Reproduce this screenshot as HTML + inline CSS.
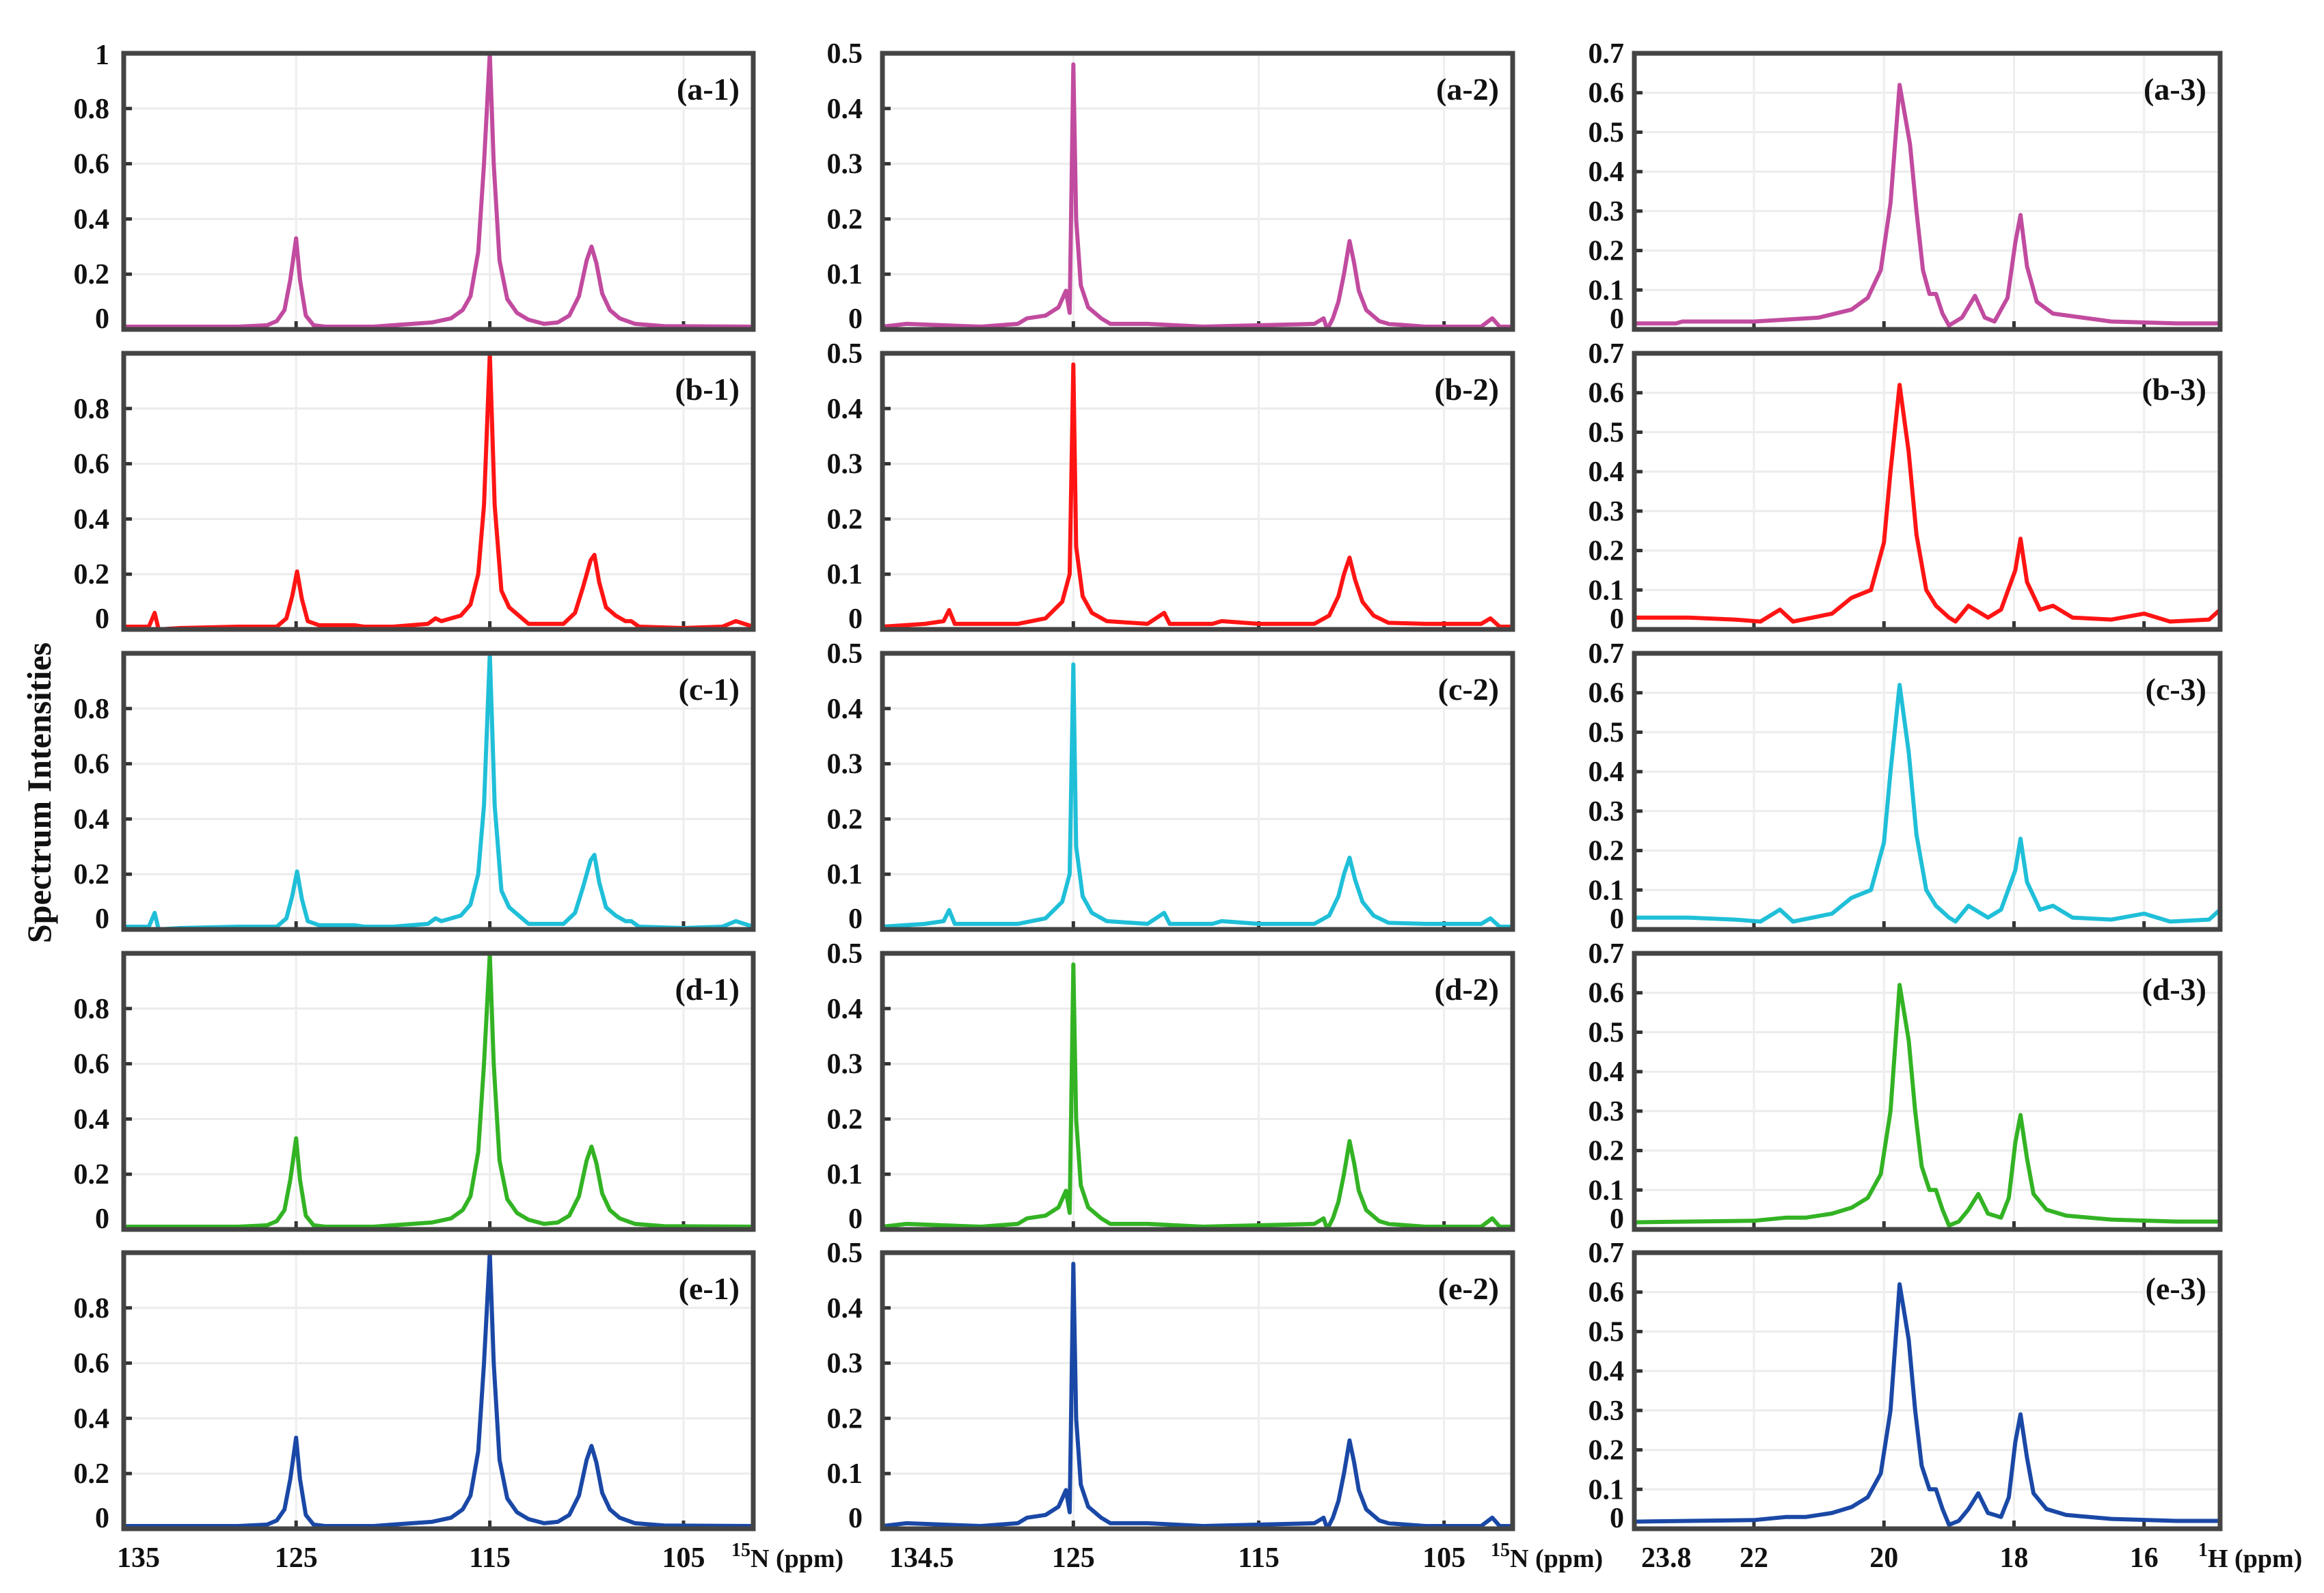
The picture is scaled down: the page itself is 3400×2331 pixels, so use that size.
<!DOCTYPE html>
<html><head><meta charset="utf-8"><style>
html,body{margin:0;padding:0;background:#fff;}
svg{display:block;}
text{font-family:"Liberation Serif",serif;font-weight:bold;fill:#111;}
</style></head>
<body>
<svg id="fig" width="3400" height="2331" viewBox="0 0 3400 2331" xmlns="http://www.w3.org/2000/svg">
<rect x="0" y="0" width="3400" height="2331" fill="#fff"/>
<text x="0" y="0" font-size="50" text-anchor="middle" transform="translate(74,1160) rotate(-90)">Spectrum Intensities</text>
</svg>
<script>
// ---- data (ppm, intensity) ----
const col1ShapeA = [[134,0.01],[128,0.01],[126.5,0.015],[126,0.03],[125.6,0.07],[125.3,0.18],[125.0,0.33],[124.8,0.18],[124.5,0.05],[124.1,0.015],[123.5,0.01],[121,0.01],[120,0.015],[118,0.025],[117,0.04],[116.4,0.07],[116,0.12],[115.6,0.28],[115.3,0.6],[115.0,1.0],[114.8,0.6],[114.5,0.25],[114.1,0.11],[113.6,0.06],[113,0.035],[112.2,0.02],[111.5,0.025],[110.9,0.05],[110.4,0.12],[110,0.25],[109.75,0.3],[109.5,0.24],[109.2,0.13],[108.8,0.07],[108.3,0.04],[107.5,0.02],[106,0.012],[101.4,0.01]];
const col1ShapeB = [[134,0.01],[132.6,0.01],[132.3,0.06],[132.1,0.0],[131,0.005],[128,0.01],[126,0.01],[125.5,0.04],[125.2,0.12],[124.95,0.21],[124.7,0.11],[124.4,0.03],[123.8,0.015],[122,0.015],[121.5,0.01],[120,0.01],[118.2,0.02],[117.8,0.04],[117.5,0.03],[116.5,0.05],[116,0.09],[115.6,0.2],[115.3,0.45],[115.0,1.0],[114.75,0.45],[114.4,0.14],[114,0.08],[113.5,0.05],[113,0.02],[111.2,0.02],[110.6,0.06],[110.2,0.15],[109.8,0.25],[109.6,0.27],[109.35,0.17],[109,0.08],[108.5,0.05],[108,0.03],[107.7,0.03],[107.3,0.01],[105,0.005],[103,0.01],[102.3,0.03],[101.4,0.01]];
const col2ShapeA = [[135.3,0.005],[134,0.01],[130,0.005],[128,0.01],[127.5,0.02],[126.5,0.025],[125.8,0.04],[125.4,0.07],[125.2,0.03],[125.0,0.48],[124.85,0.2],[124.6,0.08],[124.2,0.04],[123.5,0.02],[123,0.01],[121,0.01],[118,0.005],[112,0.01],[111.5,0.02],[111.3,0.0],[111,0.02],[110.7,0.05],[110.4,0.1],[110.1,0.16],[109.85,0.12],[109.6,0.07],[109.2,0.035],[108.5,0.015],[108,0.01],[106,0.005],[103,0.005],[102.4,0.02],[102,0.005],[101.3,0.005]];
const col2ShapeB = [[135.3,0.005],[133,0.01],[132,0.015],[131.7,0.035],[131.4,0.01],[128,0.01],[126.5,0.02],[125.6,0.05],[125.2,0.1],[125.0,0.48],[124.85,0.15],[124.5,0.06],[124,0.03],[123.2,0.015],[121,0.01],[120.1,0.03],[119.8,0.01],[117.5,0.01],[117,0.015],[115,0.01],[112,0.01],[111.2,0.025],[110.7,0.06],[110.4,0.1],[110.1,0.13],[109.8,0.09],[109.4,0.05],[108.8,0.025],[108,0.012],[106,0.01],[103,0.01],[102.5,0.02],[102,0.005],[101.3,0.005]];
const col3ShapeA = [[23.84,0.018],[23.0,0.02],[22,0.022],[21.5,0.03],[21.2,0.03],[20.8,0.04],[20.5,0.055],[20.25,0.08],[20.05,0.14],[19.9,0.3],[19.76,0.62],[19.62,0.48],[19.52,0.3],[19.42,0.16],[19.3,0.1],[19.2,0.1],[19.1,0.05],[19.0,0.01],[18.85,0.02],[18.7,0.05],[18.55,0.09],[18.4,0.04],[18.2,0.03],[18.08,0.08],[17.98,0.22],[17.9,0.29],[17.8,0.18],[17.7,0.09],[17.5,0.05],[17.2,0.035],[16.5,0.025],[15.5,0.02],[14.83,0.02]];
const col3ShapeB = [[23.84,0.03],[23.0,0.03],[22.3,0.025],[21.9,0.02],[21.6,0.05],[21.4,0.02],[20.8,0.04],[20.5,0.08],[20.2,0.1],[20.0,0.22],[19.9,0.4],[19.76,0.62],[19.62,0.45],[19.5,0.24],[19.35,0.1],[19.2,0.06],[19.0,0.03],[18.9,0.02],[18.7,0.06],[18.4,0.03],[18.2,0.05],[17.98,0.15],[17.9,0.23],[17.8,0.12],[17.6,0.05],[17.4,0.06],[17.1,0.03],[16.5,0.025],[16.0,0.04],[15.6,0.02],[15.0,0.025],[14.83,0.05]];
const col3ShapeC = [[23.84,0.015],[23.2,0.015],[23.1,0.02],[22,0.02],[21.0,0.03],[20.5,0.05],[20.25,0.08],[20.05,0.15],[19.9,0.32],[19.76,0.62],[19.6,0.47],[19.5,0.3],[19.4,0.15],[19.3,0.09],[19.2,0.09],[19.1,0.04],[19.0,0.01],[18.8,0.03],[18.6,0.085],[18.45,0.03],[18.3,0.02],[18.1,0.08],[17.98,0.22],[17.9,0.29],[17.8,0.16],[17.65,0.07],[17.4,0.04],[16.5,0.02],[15.5,0.015],[14.83,0.015]];

const rowLetters = ["a","b","c","d","e"];
const rowColors = ["#c14b9f","#ff1414","#20bfd8","#33b324","#1a48a6"];
const col1Shapes = [col1ShapeA,col1ShapeB,col1ShapeB,col1ShapeA,col1ShapeA];
const col2Shapes = [col2ShapeA,col2ShapeB,col2ShapeB,col2ShapeA,col2ShapeA];
const col3Shapes = [col3ShapeC,col3ShapeB,col3ShapeB,col3ShapeA,col3ShapeA];
const col1YTicks = [0,0.2,0.4,0.6,0.8];
const col2YTicks = [0,0.1,0.2,0.3,0.4,0.5];
const col3YTicks = [0,0.1,0.2,0.3,0.4,0.5,0.6,0.7];
const col1XTicks = [125,115,105];
const col2XTicks = [125,115,105];
const col3XTicks = [22,20,18,16];

const NS="http://www.w3.org/2000/svg";
const svg=document.getElementById("fig");
function mk(tag,attrs,parent){const e=document.createElementNS(NS,tag);for(const k in attrs)e.setAttribute(k,attrs[k]);(parent||svg).appendChild(e);return e;}

const cols=[
 {x0:181,x1:1102,d0:133.9,d1:101.4,ymax:1.0,yt:col1YTicks,xt:col1XTicks,shapes:col1Shapes,lab:"1",labX:160},
 {x0:1291,x1:2213,d0:135.3,d1:101.3,ymax:0.5,yt:col2YTicks,xt:col2XTicks,shapes:col2Shapes,lab:"2",labX:1262},
 {x0:2391,x1:3248,d0:23.84,d1:14.83,ymax:0.7,yt:col3YTicks,xt:col3XTicks,shapes:col3Shapes,lab:"3",labX:2376}
];
const rowTops=[78,517,956,1395,1833];
const H=404;
const FS=42;

cols.forEach((c,ci)=>{
 const sx=v=>c.x0+(c.d0-v)/(c.d0-c.d1)*(c.x1-c.x0);
 rowTops.forEach((top,ri)=>{
  const bot=top+H;
  const sy=v=>bot-v/c.ymax*H;
  const g=mk("g",{});
  
  
  c.yt.forEach(t=>{ if(t>0&&t<c.ymax){const l=mk("line",{x1:c.x0,x2:c.x1,y1:sy(t),y2:sy(t),stroke:"#ebebeb","stroke-width":3},g);
    
    }});
  c.xt.forEach(t=>{const l=mk("line",{x1:sx(t),x2:sx(t),y1:top,y2:bot,stroke:"#eeeeee","stroke-width":3},g);
    
    });
  c.yt.forEach(t=>{
   const tx=mk("text",{x:c.labX,y:sy(t)+(t===0?-2:14),"font-size":FS,"text-anchor":"end"},g);
   tx.textContent=String(t);
   
   
   const tk=mk("line",{x1:c.x0,x2:c.x0+12,y1:sy(t),y2:sy(t),stroke:"#333","stroke-width":5},g);
   
   
  });
  if(ci===0 && ri===0){const tx=mk("text",{x:c.labX,y:top+16,"font-size":FS,"text-anchor":"end"},g);tx.textContent="1";
   
   }
  c.xt.forEach(t=>{const tk=mk("line",{x1:sx(t),x2:sx(t),y1:bot-12,y2:bot,stroke:"#333","stroke-width":5},g);
   
   });
  const pts=c.shapes[ri].map(p=>sx(p[0]).toFixed(1)+","+sy(p[1]).toFixed(1)).join(" ");
  const pl=mk("polyline",{points:pts,fill:"none",stroke:rowColors[ri],"stroke-width":6,"stroke-linejoin":"round"},g);
  
  
  const fr=mk("rect",{x:c.x0,y:top,width:c.x1-c.x0,height:H,fill:"none",stroke:"#444","stroke-width":7},g);
  
  
  const lb=mk("text",{x:c.x1-20,y:top+68,"font-size":46,"text-anchor":"end"},g);
  lb.textContent="("+rowLetters[ri]+"-"+c.lab+")";
  
  
 });
 const bot=rowTops[4]+H;
 const first=mk("text",{x:c.x0+(ci===0?-10:10),y:bot+56,"font-size":FS,"text-anchor":"start"});
 first.textContent=ci===0?"135":(ci===1?"134.5":"23.8");
 
 
 c.xt.forEach(t=>{const tx=mk("text",{x:sx(t),y:bot+56,"font-size":FS,"text-anchor":"middle"});
  tx.textContent=String(t);
  
  });
 const at=mk("text",{x:c.x1-32,y:bot+56,"font-size":38,"text-anchor":"start"});
 at.innerHTML=(ci<2?'<tspan font-size="28" dy="-16">15</tspan><tspan dy="16">N (ppm)</tspan>':'<tspan font-size="28" dy="-16">1</tspan><tspan dy="16">H (ppm)</tspan>');
 
 
});
</script>
</body></html>
